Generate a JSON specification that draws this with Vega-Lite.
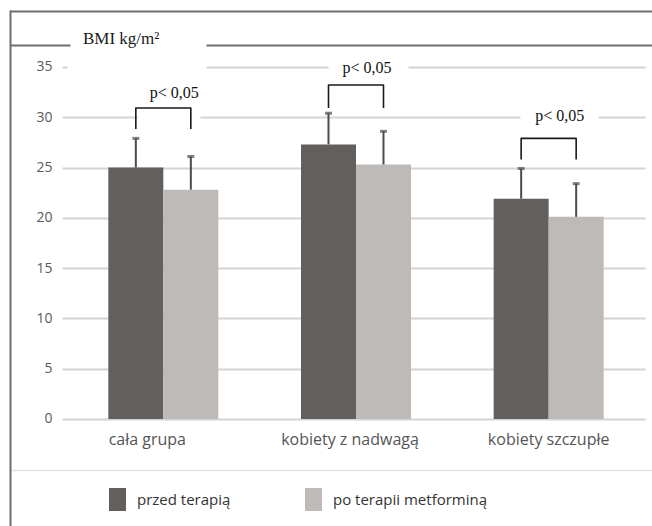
{
  "$schema": "https://vega.github.io/schema/vega-lite/v6.json",
  "width": 645,
  "height": 519,
  "autosize": "none",
  "padding": {"left": 10, "top": 10, "right": -3, "bottom": -3},
  "background": "white",
  "view": {"stroke": null, "fill": "white"},
  "title": {"text": "BMI kg/m²", "anchor": "start", "frame": "group", "orient": "top", "offset": -52, "dx": 73, "baseline": "middle", "font": "Liberation Serif", "fontSize": 17, "fontWeight": "normal", "color": "#1a1a1a"},
  "datasets": {
    "bars": [
      {"group": "cała grupa", "series": "przed terapią", "bmi": 25.0, "upper": 27.9},
      {"group": "cała grupa", "series": "po terapii metforminą", "bmi": 22.8, "upper": 26.1},
      {"group": "kobiety z nadwagą", "series": "przed terapią", "bmi": 27.3, "upper": 30.4},
      {"group": "kobiety z nadwagą", "series": "po terapii metforminą", "bmi": 25.3, "upper": 28.6},
      {"group": "kobiety szczupłe", "series": "przed terapią", "bmi": 21.9, "upper": 24.9},
      {"group": "kobiety szczupłe", "series": "po terapii metforminą", "bmi": 20.1, "upper": 23.4}
    ],
    "brackets": [
      {"group": "cała grupa", "series": "przed terapią", "p": 28.84, "ord": 1},
      {"group": "cała grupa", "series": "przed terapią", "p": 30.92, "ord": 2},
      {"group": "cała grupa", "series": "po terapii metforminą", "p": 30.92, "ord": 3},
      {"group": "cała grupa", "series": "po terapii metforminą", "p": 28.84, "ord": 4},
      {"group": "kobiety z nadwagą", "series": "przed terapią", "p": 30.92, "ord": 1},
      {"group": "kobiety z nadwagą", "series": "przed terapią", "p": 33.2, "ord": 2},
      {"group": "kobiety z nadwagą", "series": "po terapii metforminą", "p": 33.2, "ord": 3},
      {"group": "kobiety z nadwagą", "series": "po terapii metforminą", "p": 30.92, "ord": 4},
      {"group": "kobiety szczupłe", "series": "przed terapią", "p": 25.8, "ord": 1},
      {"group": "kobiety szczupłe", "series": "przed terapią", "p": 27.9, "ord": 2},
      {"group": "kobiety szczupłe", "series": "po terapii metforminą", "p": 27.9, "ord": 3},
      {"group": "kobiety szczupłe", "series": "po terapii metforminą", "p": 25.8, "ord": 4}
    ],
    "notes": [
      {"group": "cała grupa", "note": "p< 0,05", "p": 32.4},
      {"group": "kobiety z nadwagą", "note": "p< 0,05", "p": 34.9},
      {"group": "kobiety szczupłe", "note": "p< 0,05", "p": 30.1}
    ]
  },
  "encoding": {
    "x": {
      "field": "group",
      "type": "nominal",
      "sort": ["cała grupa", "kobiety z nadwagą", "kobiety szczupłe"],
      "title": null,
      "scale": {"paddingInner": 0, "paddingOuter": 0.17386, "align": 0.8507},
      "axis": {
        "orient": "bottom",
        "offset": -110,
        "domain": false,
        "ticks": false,
        "grid": false,
        "labelAngle": 0,
        "labelPadding": 12,
        "labelFont": "Open Sans",
        "labelFontSize": 16,
        "labelColor": "#555555",
        "labelOffset": {"condition": [{"test": "datum.value === 'cała grupa'", "value": -16}, {"test": "datum.value === 'kobiety z nadwagą'", "value": -6}], "value": 0}
      }
    }
  },
  "layer": [
    {
      "mark": {"type": "rule", "color": "#d4d4d4", "strokeWidth": 1.5},
      "encoding": {
        "x": {"datum": "cała grupa", "type": "nominal", "bandPosition": 0},
        "y": {"datum": 0, "type": "quantitative"},
        "y2": {"datum": 35}
      }
    },
    {
      "data": {"name": "bars"},
      "mark": {"type": "bar"},
      "encoding": {
        "xOffset": {"field": "series", "type": "nominal", "sort": ["przed terapią", "po terapii metforminą"], "scale": {"paddingInner": 0, "paddingOuter": 0.7515}},
        "y": {
          "field": "bmi",
          "type": "quantitative",
          "title": null,
          "scale": {"domain": [-10.936, 40.662], "nice": false, "zero": false},
          "axis": {
            "values": [-5.07, 0, 5, 10, 15, 20, 25, 30, 35, 37.19, 40.6],
            "offset": 0,
            "format": "d",
            "labelExpr": "datum.value < 0 || datum.value > 36 ? '' : datum.label",
            "labelOverlap": false,
            "labelFont": "Open Sans",
            "labelFontSize": 14,
            "labelColor": "#5a5a5a",
            "labelPadding": -42,
            "ticks": false,
            "domainColor": "#6e6e6e",
            "domainWidth": 2,
            "grid": true,
            "gridColor": {"condition": [{"test": "datum.value > 36", "value": "#6e6e6e"}, {"test": "datum.value < 0", "value": "#e2e2e2"}], "value": "#d4d4d4"},
            "gridWidth": {"condition": {"test": "datum.value < 0", "value": 1.5}, "value": 2},
            "gridDash": {"condition": [
              {"test": "datum.value > 40", "value": [1000, 10]},
              {"test": "datum.value > 36", "value": [60, 136, 1000]},
              {"test": "datum.value === 35", "value": [0, 52, 5, 139, 122, 80, 237, 100]},
              {"test": "datum.value === 30", "value": [0, 52, 75, 63, 320, 78, 47, 100]},
              {"test": "datum.value < 0", "value": [1000, 10]}
            ], "value": [0, 52, 583, 100]}
          }
        },
        "color": {
          "field": "series",
          "type": "nominal",
          "scale": {"domain": ["przed terapią", "po terapii metforminą"], "range": ["#625f5c", "#bdbab7"]},
          "legend": {
            "title": null,
            "orient": "none",
            "legendX": 96,
            "legendY": 478,
            "direction": "horizontal",
            "padding": 0,
            "symbolType": "M-0.739,-1H0.739V1H-0.739Z",
            "symbolSize": 529,
            "symbolStrokeWidth": 0,
            "labelFont": "Open Sans",
            "labelFontSize": 15,
            "labelColor": "#333333",
            "labelOffset": 8,
            "columnPadding": 71,
            "encode": {"symbols": {"update": {"fill": {"signal": "datum.value === 'przed terapią' ? '#7b7b7b' : '#cdcdcd'"}}}}
          }
        }
      }
    },
    {
      "data": {"name": "bars"},
      "mark": {"type": "rule", "color": "#4b4b4b", "strokeWidth": 2},
      "encoding": {
        "xOffset": {"field": "series", "type": "nominal", "sort": ["przed terapią", "po terapii metforminą"]},
        "y": {"field": "bmi", "type": "quantitative", "title": null},
        "y2": {"field": "upper"}
      }
    },
    {
      "data": {"name": "bars"},
      "mark": {"type": "tick", "color": "#4b4b4b", "size": 7, "thickness": 3},
      "encoding": {
        "xOffset": {"field": "series", "type": "nominal", "sort": ["przed terapią", "po terapii metforminą"]},
        "y": {"field": "upper", "type": "quantitative", "title": null}
      }
    },
    {
      "data": {"name": "brackets"},
      "mark": {"type": "line", "color": "#1a1a1a", "strokeWidth": 1.6, "strokeJoin": "round"},
      "encoding": {
        "xOffset": {"field": "series", "type": "nominal", "sort": ["przed terapią", "po terapii metforminą"]},
        "y": {"field": "p", "type": "quantitative", "title": null},
        "detail": {"field": "group"},
        "order": {"field": "ord", "type": "quantitative"}
      }
    },
    {
      "data": {"name": "notes"},
      "mark": {"type": "text", "font": "Liberation Serif", "fontSize": 16, "color": "#111111", "dx": 11, "baseline": "middle"},
      "encoding": {
        "y": {"field": "p", "type": "quantitative", "title": null},
        "text": {"field": "note"}
      }
    }
  ]
}
